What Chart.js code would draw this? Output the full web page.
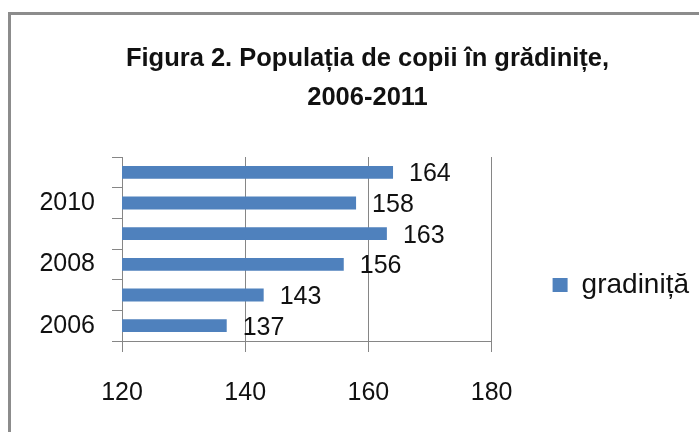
<!DOCTYPE html>
<html>
<head>
<meta charset="utf-8">
<script src="https://cdn.jsdelivr.net/npm/chart.js@4/dist/chart.umd.min.js"></script>
<style>
  html, body { margin: 0; padding: 0; background: #fff; }
  #wrap { position: relative; width: 699px; height: 432px; overflow: hidden; }
  #frame { position: absolute; left: 8px; top: 12px; width: 800px; height: 600px;
           border-left: 3px solid #8c8c8c; border-top: 3px solid #8c8c8c; }
  canvas { position: absolute; left: 0; top: 0; }
</style>
</head>
<body>
<div id="wrap">
  <div id="frame"></div>
  <canvas id="c" width="699" height="432"></canvas>
</div>
<script>
// Figura 2 – children in kindergartens, 2006-2011
const years = ['2006', '2007', '2008', '2009', '2010', '2011'];
const kids = [137, 143, 156, 163, 158, 164];
const xTicks = [120, 140, 160, 180];
const seriesName = 'gradiniță';
const titleLines = ['Figura 2. Populația de copii în grădinițe,', '2006-2011'];

const BLUE = '#4f81bd';
const GRID = '#868686';
const FONT = '"Liberation Sans", Arial, sans-serif';

// value labels next to each bar end
const valueLabels = {
  id: 'value-labels',
  afterDatasetsDraw(chart) {
    const ctx = chart.ctx;
    const meta = chart.getDatasetMeta(0);
    ctx.save();
    ctx.font = '25px ' + FONT;
    ctx.fillStyle = '#111';
    ctx.textAlign = 'left';
    ctx.textBaseline = 'middle';
    meta.data.forEach((bar, i) => {
      ctx.fillText(String(kids[i]), bar.x + 16, bar.y + 2);
    });
    ctx.restore();
  },
};

new Chart(document.getElementById('c'), {
  type: 'bar',
  data: {
    labels: years,
    datasets: [{
      label: seriesName, data: kids,
      backgroundColor: BLUE, borderWidth: 0,
      barPercentage: 0.42, categoryPercentage: 1,
    }],
  },
  options: {
    indexAxis: 'y',
    responsive: false, animation: false,
    layout: { padding: { left: 36, right: 0, top: 0, bottom: 19 } },
    scales: {
      x: {
        min: 120, max: 180,
        afterBuildTicks: s => { s.ticks = xTicks.map(v => ({ value: v })); },
        afterFit: s => { s.height = 72; },
        ticks: { color: '#111', padding: 26, font: { family: FONT, size: 25 } },
        grid: { color: GRID, lineWidth: 1, tickLength: 11 },
        border: { color: GRID },
      },
      y: {
        reverse: true,
        afterFit: s => { s.width = 86; },
        ticks: {
          autoSkip: false, color: '#111', padding: 17,
          font: { family: FONT, size: 25 },
          callback: (v, i) => (i % 2 === 0 ? years[i] : ''),
        },
        grid: { drawOnChartArea: false, color: GRID, tickLength: 10, offset: true },
        border: { color: GRID },
      },
    },
    plugins: {
      title: {
        display: true, text: titleLines, color: '#111',
        font: { family: FONT, size: 25.5, weight: 'bold', lineHeight: 1.51 },
        padding: { top: 40, bottom: 40 },
      },
      legend: {
        position: 'right',
        maxWidth: 300,
        title: { display: true, text: '', font: { size: 10, lineHeight: 1 }, padding: { top: 147, bottom: 0 } },
        labels: {
          color: '#111', boxWidth: 15, boxHeight: 14, padding: 61,
          font: { family: FONT, size: 28 },
        },
      },
      tooltip: { enabled: false },
    },
  },
  plugins: [valueLabels],
});
</script>
</body>
</html>
